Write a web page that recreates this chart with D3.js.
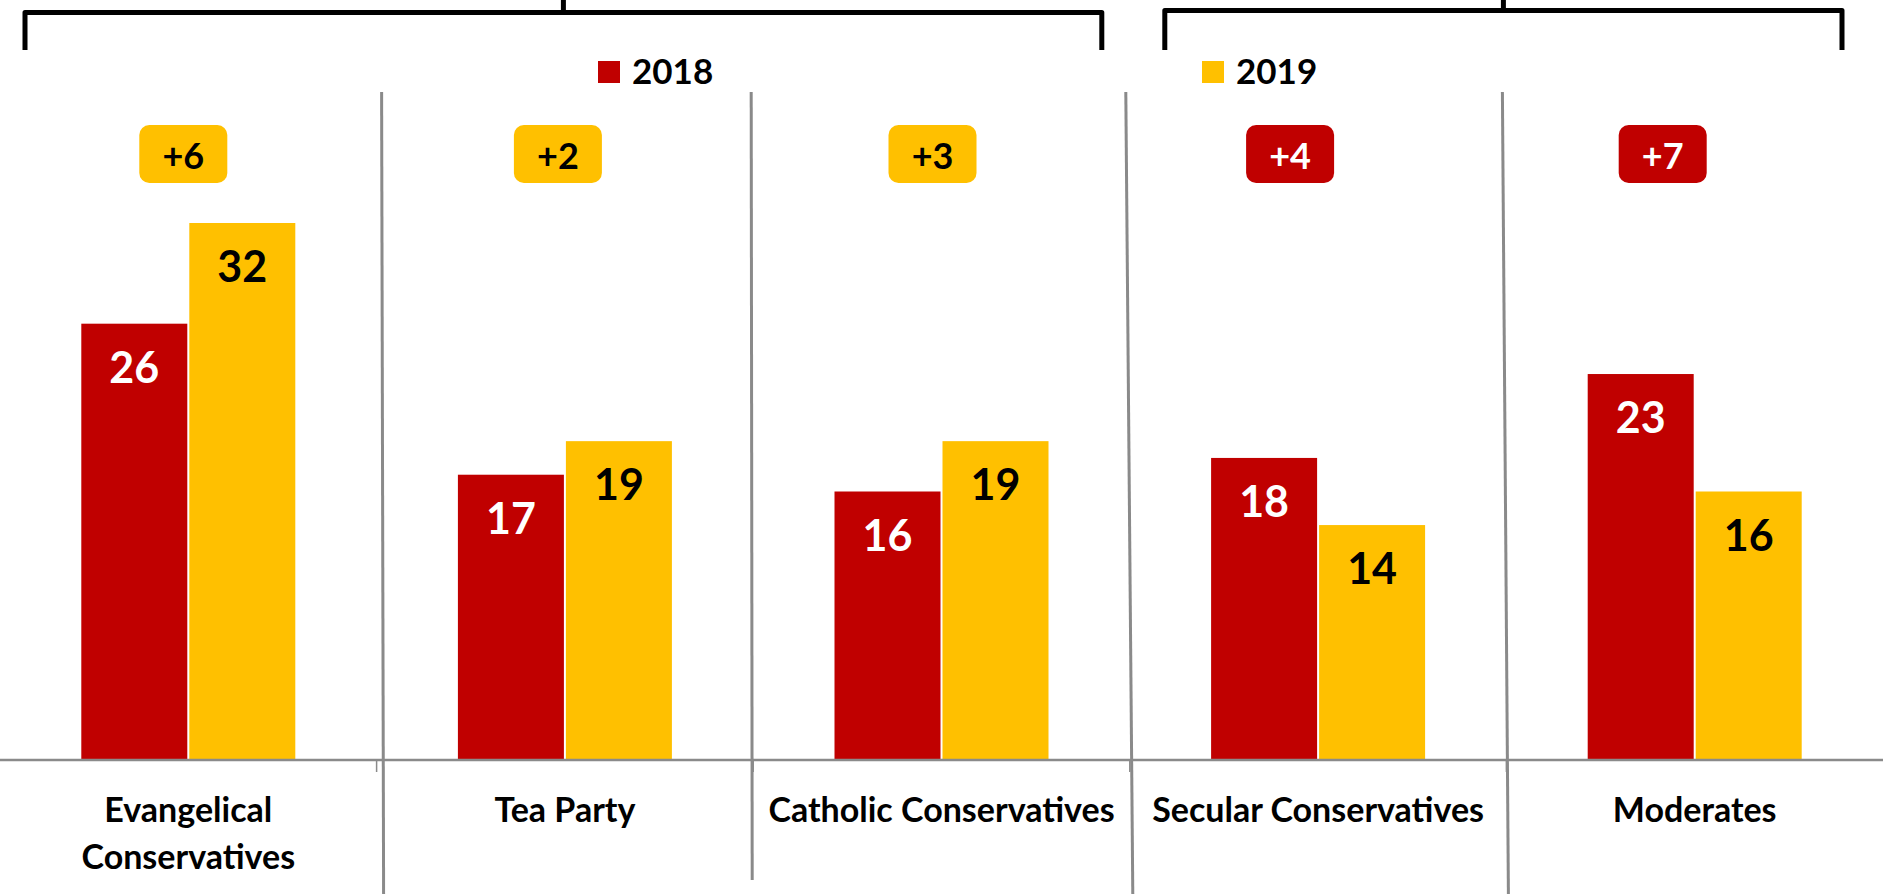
<!DOCTYPE html>
<html>
<head>
<meta charset="utf-8">
<script src="https://cdn.jsdelivr.net/npm/d3@7"></script>
<style>
  html, body { margin: 0; padding: 0; background: #fff; }
  svg { display: block; font-family: Lato, "Noto Sans", sans-serif; font-weight: 700; }
</style>
</head>
<body>
<div id="chart"></div>
<script>
// Grouped bars, 2018 vs 2019, with change badges and two brackets on top.
var categories = ['Evangelical\nConservatives', 'Tea Party', 'Catholic Conservatives',
                  'Secular Conservatives', 'Moderates'];
var years = ['2018', '2019'];
var values2018 = [26, 17, 16, 18, 23];
var values2019 = [32, 19, 19, 14, 16];

(function () {
    var W = 1883, H = 894;
    var baseY = 760;
    var RED = '#C00000', YEL = '#FFC000', GREY = '#8a8a8a';

    // hand nudges to match the source layout
    var badgeNudge = [-5, -7, -9, -28, -32];
    var divTop = [5, -2, -4, -4];
    var divBot = [7, -1, 3, 2];
    var divEnd = [894, 880, 894, 894];
    var brackets = [
        { from: 0, to: 2, inL: 25, inR: 28, top: 12.5 },
        { from: 3, to: 4, inL: 35, inR: 41, top: 10.5 }
    ];
    var legendX = [598, 1202];

    var rows = categories.map(function (c, i) {
        return { cat: c, v: [values2018[i], values2019[i]], i: i };
    });

    var svg = d3.select('#chart').append('svg')
        .attr('width', W).attr('height', H)
        .attr('viewBox', '0 0 ' + W + ' ' + H);

    var x0 = d3.scaleBand().domain(categories).range([0, W]);
    var x1 = d3.scaleBand().domain(years).range([0, x0.bandwidth()])
        .paddingInner(0.0185).paddingOuter(0.7528);
    var y = d3.scaleLinear().domain([0, 32]).range([baseY, 223]);
    var color = d3.scaleOrdinal().domain(years).range([RED, YEL]);

    // Brackets
    brackets.forEach(function (b) {
        var xl = x0(categories[b.from]) + b.inL;
        var xr = x0(categories[b.to]) + x0.bandwidth() - b.inR;
        svg.append('path')
            .attr('d', 'M' + xl + ',50V' + b.top + 'H' + xr + 'V50')
            .attr('fill', 'none').attr('stroke', '#000')
            .attr('stroke-width', 5).attr('stroke-linejoin', 'round');
        svg.append('line')
            .attr('x1', (xl + xr) / 2).attr('x2', (xl + xr) / 2)
            .attr('y1', 0).attr('y2', b.top)
            .attr('stroke', '#000').attr('stroke-width', 5);
    });

    // Legend
    var leg = svg.selectAll('g.leg').data(years).enter().append('g')
        .attr('class', 'leg')
        .attr('transform', function (d, i) { return 'translate(' + legendX[i] + ',61)'; });
    leg.append('rect').attr('width', 22).attr('height', 22).attr('fill', color);
    leg.append('text').attr('x', 34).attr('y', 22.5)
        .attr('font-size', 35).attr('fill', '#000')
        .text(function (d) { return d; });

    // Dividers between categories
    categories.slice(1).forEach(function (c, i) {
        var bx = x0(c);
        svg.append('line')
            .attr('x1', bx + divTop[i]).attr('x2', bx + divBot[i])
            .attr('y1', 92).attr('y2', divEnd[i])
            .attr('stroke', GREY).attr('stroke-width', 3);
        svg.append('line')
            .attr('x1', bx).attr('x2', bx)
            .attr('y1', baseY).attr('y2', baseY + 12)
            .attr('stroke', GREY).attr('stroke-width', 1.5);
    });

    // Bars
    var groups = svg.selectAll('g.grp').data(rows).enter().append('g')
        .attr('class', 'grp')
        .attr('transform', function (d) { return 'translate(' + x0(d.cat) + ',0)'; });

    groups.selectAll('rect').data(function (d) {
        return years.map(function (yr, k) { return { yr: yr, v: d.v[k] }; });
    }).enter().append('rect')
        .attr('x', function (d) { return x1(d.yr); })
        .attr('width', x1.bandwidth())
        .attr('y', function (d) { return y(d.v); })
        .attr('height', function (d) { return baseY - y(d.v); })
        .attr('fill', function (d) { return color(d.yr); });

    groups.selectAll('text.val').data(function (d) {
        return years.map(function (yr, k) { return { yr: yr, v: d.v[k] }; });
    }).enter().append('text')
        .attr('class', 'val')
        .attr('x', function (d) { return x1(d.yr) + x1.bandwidth() / 2; })
        .attr('y', function (d) { return y(d.v) + 59; })
        .attr('text-anchor', 'middle')
        .attr('font-size', 43)
        .attr('fill', function (d) { return d.yr === '2018' ? '#fff' : '#000'; })
        .text(function (d) { return d.v; });

    // Change badges
    var badge = groups.append('g')
        .attr('transform', function (d) {
            return 'translate(' + (x0.bandwidth() / 2 + badgeNudge[d.i]) + ',0)';
        });
    badge.append('rect')
        .attr('x', -44).attr('y', 125).attr('width', 88).attr('height', 58)
        .attr('rx', 10).attr('ry', 10)
        .attr('fill', function (d) { return d.v[1] >= d.v[0] ? YEL : RED; });
    badge.append('text')
        .attr('x', 0).attr('y', 169)
        .attr('text-anchor', 'middle').attr('font-size', 36)
        .attr('fill', function (d) { return d.v[1] >= d.v[0] ? '#000' : '#fff'; })
        .text(function (d) { return '+' + Math.abs(d.v[1] - d.v[0]); });

    // Baseline
    svg.append('line')
        .attr('x1', 0).attr('x2', W)
        .attr('y1', baseY).attr('y2', baseY)
        .attr('stroke', GREY).attr('stroke-width', 2.5);

    // Category labels
    var lab = svg.selectAll('text.cat').data(categories).enter().append('text')
        .attr('class', 'cat')
        .attr('text-anchor', 'middle')
        .attr('font-size', 34)
        .attr('fill', '#000');
    lab.selectAll('tspan').data(function (d) {
        var c = d;
        return d.split('\n').map(function (s) { return { s: s, c: c }; });
    }).enter().append('tspan')
        .attr('x', function (d) { return x0(d.c) + x0.bandwidth() / 2; })
        .attr('y', function (d, k) { return 822 + k * 47; })
        .text(function (d) { return d.s; });
})();
</script>
</body>
</html>
